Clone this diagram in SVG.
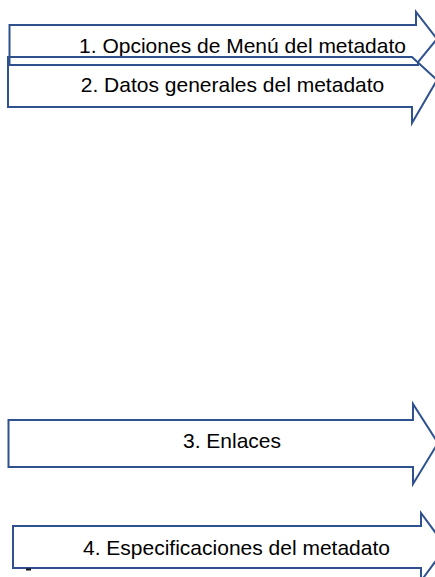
<svg xmlns="http://www.w3.org/2000/svg" width="435" height="577" viewBox="0 0 435 577">
<style>
.arrow{fill:none;stroke:#2F528F;stroke-width:2;stroke-linejoin:miter}
.lbl{font-family:"Liberation Sans",Arial,sans-serif;font-size:21px;fill:#000;text-anchor:middle}
</style>
<rect width="435" height="577" fill="#fff"/>
<g id="connectors"></g>
<g id="node1">
<path class="arrow" d="M9.5,25 H416 V12 L437,39 L418,62 V65 H9.5 Z"/>
<text class="lbl" x="242.5" y="53">1. Opciones de Menú del metadato</text>
</g>
<g id="node2">
<path class="arrow" d="M8,57 H412 L437,80 L412,123 V107 H8 Z"/>
<text class="lbl" x="232.5" y="92">2. Datos generales del metadato</text>
</g>
<g id="node3">
<path class="arrow" d="M8.5,420 H413 V404 L438,443 L413,484 V467 H8.5 Z"/>
<text class="lbl" x="232" y="447.5">3. Enlaces</text>
</g>
<g id="node4">
<path class="arrow" d="M13,526 H421 V513 L446,547 L421,581 V568 H13 Z"/>
<text class="lbl" x="236.5" y="555">4. Especificaciones del metadato</text>
<rect x="26" y="568.5" width="5" height="2" fill="#111"/>
</g>
</svg>
